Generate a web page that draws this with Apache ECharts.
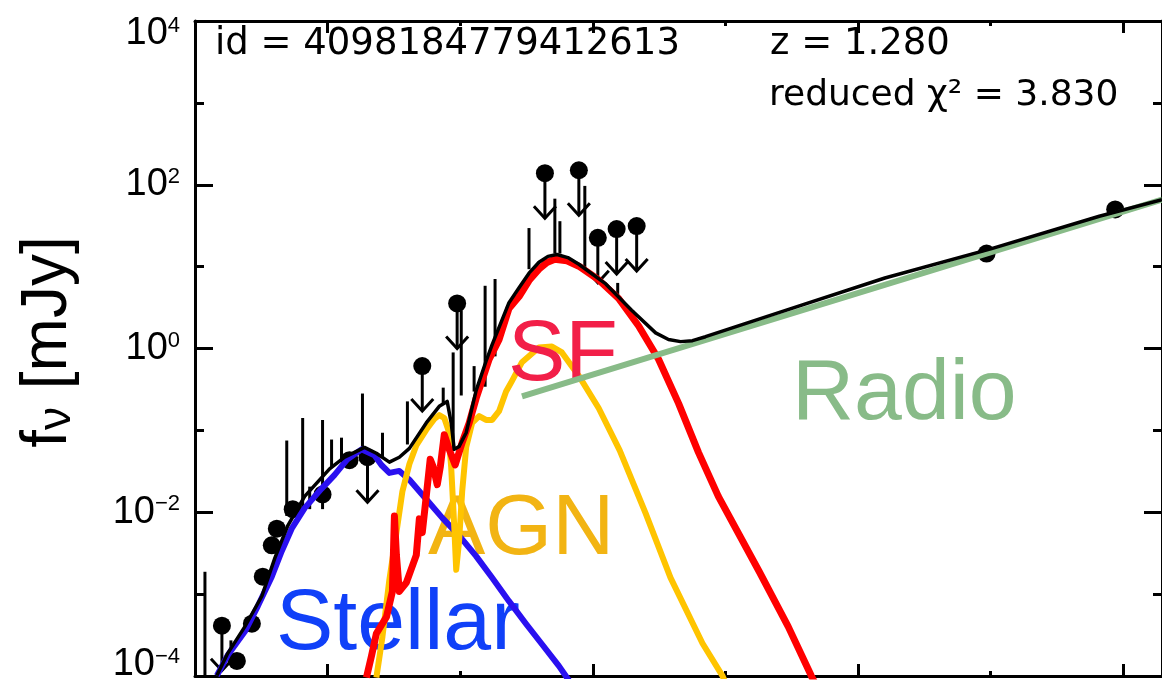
<!DOCTYPE html>
<html><head><meta charset="utf-8">
<script src="https://cdn.jsdelivr.net/npm/echarts@6/dist/echarts.min.js"></script>
<style>html,body{margin:0;padding:0;background:#fff}#c{width:1162px;height:697px}</style>
</head><body><div id="c"></div>
<script>
// x: log10(wavelength / um), y: log10(f_nu / mJy)
const X_MIN = -1, X_MAX = 6.293, Y_MIN = -4, Y_MAX = 4;
const xMajorTicks = [0, 2, 4, 6];
const xMinorTicks = [1, 3, 5];

// detections (filled circles) with error bars
const detX  = [-0.684, -0.571, -0.489, -0.421, -0.383, -0.263, -0.038, 0.165, 4.970, 5.940];
const detY  = [-3.816, -3.361, -2.787, -2.404, -2.201, -1.962, -1.782, -1.364, 1.160, 1.699];
const detLo = [-3.816, -3.361, -2.787, -2.404, -2.201, -1.962, -1.962, -1.364, 1.160, 1.699];
const detHi = [-3.816, -3.361, -2.787, -2.404, -2.201, -1.962, -0.873, -1.364, 1.160, 1.699];

// error bars whose points are hidden under the model
const barX  = [-0.925, -0.729, -0.308, -0.188, -0.135, 0.030, 0.105, 0.263, 0.414, 0.602, 0.872, 0.947, 1.008, 1.105, 1.188, 1.263, 1.519, 1.714, 1.752, 1.940, 2.188, 2.301];
const barLo = [-4.300, -3.804, -2.045, -1.962, -1.962, -1.447, -1.364, -1.232, -1.328, -1.172, -0.670, -1.244, -0.574, -0.526, -0.467, -0.096, 0.969, 1.160, 1.160, 0.981, 0.622, 0.371];
const barHi = [-2.727, -3.565, -1.124, -0.849, -1.687, -1.112, -1.089, -0.550, -1.029, -0.646, -0.478, -0.048, 0.467, -0.215, 0.766, 0.849, 1.471, 1.830, 1.555, 1.986, 0.801, 0.467];

// upper limits
const ulX = [-0.797, 0.301, 0.714, 0.977, 1.639, 1.895, 2.038, 2.180, 2.331];
const ulY = [-3.385, -1.328, -0.215, 0.550, 2.141, 2.177, 1.352, 1.459, 1.495];

// model components
const totalX = [-0.835,-0.752,-0.624,-0.496,-0.398,-0.301,-0.173,0.015,0.128,0.203,0.278,0.368,0.466,0.541,0.617,0.744,0.842,0.902,0.932,0.955,0.992,1.045,1.120,1.195,1.241,1.368,1.444,1.519,1.594,1.662,1.729,1.812,1.895,2.098,2.293,2.474,2.571,2.662,2.752,2.850,3.391,4.203,5.008,5.820,6.293];
const totalY = [-3.995,-3.720,-3.397,-3.026,-2.560,-2.165,-1.806,-1.471,-1.328,-1.268,-1.208,-1.280,-1.388,-1.328,-1.220,-0.909,-0.706,-0.646,-0.909,-1.232,-1.196,-1.029,-0.514,-0.156,0.048,0.560,0.742,0.920,1.053,1.125,1.148,1.110,1.029,0.789,0.467,0.191,0.110,0.084,0.096,0.144,0.431,0.861,1.220,1.615,1.818];

const stellarX = [-0.835,-0.752,-0.624,-0.526,-0.421,-0.346,-0.271,-0.173,-0.045,0.053,0.150,0.256,0.353,0.406,0.466,0.541,0.617,0.744,0.865,0.992,1.120,1.241,1.368,1.496,1.617,1.744,1.820];
const stellarY = [-3.995,-3.744,-3.457,-3.146,-2.787,-2.476,-2.201,-1.950,-1.711,-1.543,-1.352,-1.232,-1.304,-1.423,-1.519,-1.495,-1.603,-1.842,-2.069,-2.285,-2.536,-2.799,-3.086,-3.361,-3.612,-3.876,-4.055];

const agnX = [0.368,0.414,0.466,0.519,0.564,0.617,0.669,0.744,0.805,0.842,0.880,0.910,0.932,0.955,0.970,0.992,1.015,1.045,1.090,1.143,1.195,1.241,1.293,1.346,1.391,1.466,1.594,1.692,1.767,1.895,2.045,2.203,2.398,2.586,2.827,2.977,3.023];
const agnY = [-4.019,-3.517,-2.823,-2.249,-1.746,-1.411,-1.184,-0.993,-0.861,-0.813,-0.849,-0.993,-1.447,-2.165,-2.703,-2.344,-1.746,-1.208,-0.909,-0.825,-0.873,-0.873,-0.766,-0.526,-0.395,-0.167,0.012,0.024,-0.048,-0.335,-0.730,-1.244,-2.010,-2.799,-3.600,-3.995,-4.163];

const sfX = [0.293,0.331,0.368,0.444,0.489,0.504,0.519,0.541,0.594,0.669,0.692,0.714,0.744,0.774,0.797,0.827,0.850,0.880,0.917,0.962,1.015,1.068,1.120,1.218,1.293,1.368,1.444,1.519,1.594,1.654,1.714,1.805,1.895,2.045,2.195,2.346,2.496,2.647,2.797,2.947,3.256,3.474,3.647,3.699];
const sfY = [-4.019,-3.756,-3.481,-3.278,-2.967,-2.045,-2.524,-2.967,-2.859,-2.524,-2.081,-2.249,-1.806,-1.352,-1.447,-1.663,-1.447,-1.053,-1.232,-1.423,-1.148,-0.909,-0.610,-0.132,0.108,0.490,0.634,0.830,0.969,1.050,1.089,1.070,1.005,0.837,0.610,0.275,-0.132,-0.670,-1.268,-1.806,-2.727,-3.397,-3.995,-4.163];

const radioX = [1.466, 6.293];
const radioY = [-0.586, 1.818];

const AX = '#000';
function tickAxis(pos, values, len, showLine) {
  return {
    type: 'value', position: pos, min: X_MIN, max: X_MAX, gridIndex: 0,
    axisLine: { show: showLine, onZero: false, lineStyle: { color: AX, width: 3 } },
    axisTick: { show: true, inside: true, length: len, customValues: values, lineStyle: { color: AX, width: 3 } },
    axisLabel: { show: false }, splitLine: { show: false }
  };
}
function yTickAxis(pos, interval, len, showLine, labels) {
  return {
    type: 'value', position: pos, min: Y_MIN, max: Y_MAX, interval: interval,
    axisLine: { show: showLine, onZero: false, lineStyle: { color: AX, width: 3 } },
    axisTick: { show: true, inside: true, length: len, lineStyle: { color: AX, width: 3 } },
    splitLine: { show: false },
    axisLabel: labels ? {
      show: true, margin: 15, align: 'right',
      formatter: function (v) {
        const e = Math.round(v);
        const s = e < 0 ? '\u2212' + (-e) : String(e);
        const main = '{b|10}{s|' + s + '}';
        if (e === Y_MAX) return '{g| }\n' + main;
        if (e === Y_MIN) return main + '\n{h| }';
        return main;
      },
      rich: {
        b: { fontSize: 38, fontFamily: 'Liberation Sans', color: '#000', lineHeight: 38 },
        s: { fontSize: 22, fontFamily: 'Liberation Sans', color: '#000', lineHeight: 22, verticalAlign: 'top' },
        g: { fontSize: 4, lineHeight: 26 },
        h: { fontSize: 4, lineHeight: 22 }
      }
    } : { show: false }
  };
}
function curve(name, xs, ys, color, width, z) {
  return { type: 'line', name: name, data: xs.map((x, i) => [x, ys[i]]), showSymbol: false, symbol: 'none',
    lineStyle: { color: color, width: width, join: 'round' }, z: z, clip: true, silent: true };
}

const chart = echarts.init(document.getElementById('c'), null, { renderer: 'canvas' });
chart.setOption({
  animation: false,
  backgroundColor: '#fff',
  grid: { left: 195, top: 14, width: 970, height: 669, containLabel: false },
  xAxis: [
    tickAxis('bottom', xMajorTicks, 12, true),
    tickAxis('bottom', xMinorTicks, 5, false),
    tickAxis('top', xMajorTicks, 12, true),
    tickAxis('top', xMinorTicks, 5, false)
  ],
  yAxis: [
    yTickAxis('left', 2, 18, true, true),
    yTickAxis('left', 1, 9, false, false),
    yTickAxis('right', 2, 18, true, false),
    yTickAxis('right', 1, 9, false, false)
  ],
  series: [
    { type: 'custom', name: 'error bars', z: 1, clip: true,
      data: barX.map((x, i) => [x, barLo[i], barHi[i]]).concat(detX.map((x, i) => [x, detLo[i], detHi[i]])),
      renderItem: function (params, api) {
        const a = api.coord([api.value(0), api.value(1)]);
        const b = api.coord([api.value(0), api.value(2)]);
        return { type: 'line', shape: { x1: a[0], y1: a[1], x2: b[0], y2: b[1] }, style: { stroke: '#000', lineWidth: 3 } };
      } },
    { type: 'scatter', name: 'detections', z: 1, symbolSize: 18, itemStyle: { color: '#000', opacity: 1 },
      data: detX.map((x, i) => [x, detY[i]]) },
    { type: 'custom', name: 'upper limits', z: 1, clip: true,
      data: ulX.map((x, i) => [x, ulY[i]]),
      renderItem: function (params, api) {
        const p = api.coord([api.value(0), api.value(1)]);
        const tip = p[1] + 45;
        return { type: 'group', children: [
          { type: 'line', shape: { x1: p[0], y1: p[1], x2: p[0], y2: tip }, style: { stroke: '#000', lineWidth: 3 } },
          { type: 'polyline', shape: { points: [[p[0] - 11, tip - 12], [p[0], tip], [p[0] + 11, tip - 12]] }, style: { stroke: '#000', lineWidth: 3, fill: null } },
          { type: 'circle', shape: { cx: p[0], cy: p[1], r: 9 }, style: { fill: '#000' } }
        ] };
      } },
    curve('Stellar', stellarX, stellarY, '#2a10f0', 6, 3),
    curve('AGN', agnX, agnY, '#ffc400', 6, 4),
    curve('SF', sfX, sfY, '#ff0000', 7, 6),
    curve('Radio', radioX, radioY, '#88bb88', 6, 7),
    curve('Total', totalX, totalY, '#000000', 3.5, 8)
  ],
  graphic: [
    { type: 'text', x: 215, y: 44, z: 10, style: { text: 'id = 4098184779412613', font: '37px "DejaVu Sans"', fill: '#000', textAlign: 'left', textVerticalAlign: 'middle' } },
    { type: 'text', x: 770, y: 44, z: 10, style: { text: 'z = 1.280', font: '37px "DejaVu Sans"', fill: '#000', textAlign: 'left', textVerticalAlign: 'middle' } },
    { type: 'text', x: 769, y: 96, z: 10, style: { text: 'reduced \u03c7\u00b2 = 3.830', font: '36px "DejaVu Sans"', fill: '#000', textAlign: 'left', textVerticalAlign: 'middle' } },
    { type: 'text', x: 508, y: 356, z: 5, style: { text: 'SF', font: '86px "Liberation Sans"', fill: '#f21f48', textAlign: 'left', textVerticalAlign: 'middle' } },
    { type: 'text', x: 428, y: 530, z: 2, style: { text: 'AGN', font: '86px "Liberation Sans"', fill: '#f2b413', textAlign: 'left', textVerticalAlign: 'middle' } },
    { type: 'text', x: 276, y: 625, z: 2, style: { text: 'Stellar', font: '86px "Liberation Sans"', fill: '#1040f8', textAlign: 'left', textVerticalAlign: 'middle' } },
    { type: 'text', x: 792, y: 395, z: 2, style: { text: 'Radio', font: '86px "Liberation Sans"', fill: '#88bb88', textAlign: 'left', textVerticalAlign: 'middle' } },
    { type: 'text', x: 48, y: 342, rotation: Math.PI / 2, z: 10, style: {
        text: '{f|f}{n|\u03bd}{f| [mJy]}', textAlign: 'center', textVerticalAlign: 'middle',
        rich: {
          f: { fontSize: 64, fontFamily: 'Liberation Sans', fill: '#000', color: '#000', lineHeight: 64 },
          n: { fontSize: 46, fontFamily: 'Liberation Sans', fill: '#000', color: '#000', lineHeight: 26, verticalAlign: 'bottom' }
        } } }
  ]
});
</script></body></html>
